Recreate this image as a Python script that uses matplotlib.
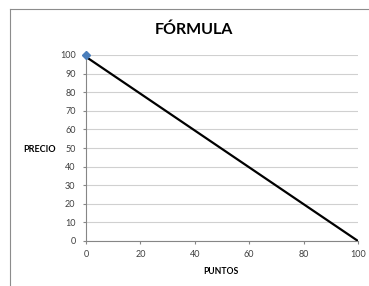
import numpy as np
import matplotlib.pyplot as plt
from matplotlib.lines import Line2D

plt.rcParams['font.family'] = ['Lato', 'DejaVu Sans']

# data
line_x = [0, 100]
line_y = [99, 0]
point_x = [0]
point_y = [100]
x_ticks = [0, 20, 40, 60, 80, 100]
y_ticks = [0, 10, 20, 30, 40, 50, 60, 70, 80, 90, 100]


def main():
    fig = plt.figure(figsize=(3.69, 2.86), dpi=100)
    ax = fig.add_axes([86/369, 1 - 241/286, (358 - 86)/369, (241 - 55)/286])

    ax.plot(line_x, line_y, color='black', lw=1.6, zorder=3)
    ax.plot(point_x, point_y, marker='D', color='#4a7ebb', ms=4.5, ls='none',
            zorder=4, clip_on=False)

    ax.set_xlim(0, 100)
    ax.set_ylim(0, 100)
    ax.set_xticks(x_ticks)
    ax.set_yticks(y_ticks)
    ax.grid(axis='y', color='#d0d0d0', lw=0.8)
    ax.set_axisbelow(True)

    for s in ['top', 'right']:
        ax.spines[s].set_visible(False)
    for s in ['left', 'bottom']:
        ax.spines[s].set_color('#868686')
        ax.spines[s].set_linewidth(0.8)
    ax.tick_params(axis='x', direction='out', length=2.5, color='#868686',
                   labelsize=6.5, pad=4, labelcolor='#404040')
    ax.tick_params(axis='y', length=2.5, color='#868686', labelsize=6.5,
                   pad=5, labelcolor='#404040')

    fig.text(221/369, 1 - 272/286, 'PUNTOS', fontsize=6.2, fontweight='bold',
             ha='center', va='center')
    fig.text(40/369, 1 - 149/286, 'PRECIO', fontsize=6.5, fontweight='bold',
             ha='center', va='center')
    fig.text(194/369, 1 - 30/286, 'FÓRMULA', fontsize=11.5, fontweight='bold',
             ha='center', va='center')

    # chart border (cropped)
    fig.add_artist(Line2D([10/369, 10/369], [0, 1 - 9/286], color='#8c8c8c', lw=0.8))
    fig.add_artist(Line2D([10/369, 1], [1 - 9/286, 1 - 9/286], color='#8c8c8c', lw=0.8))

    fig.savefig('out.png', dpi=100)


main()
